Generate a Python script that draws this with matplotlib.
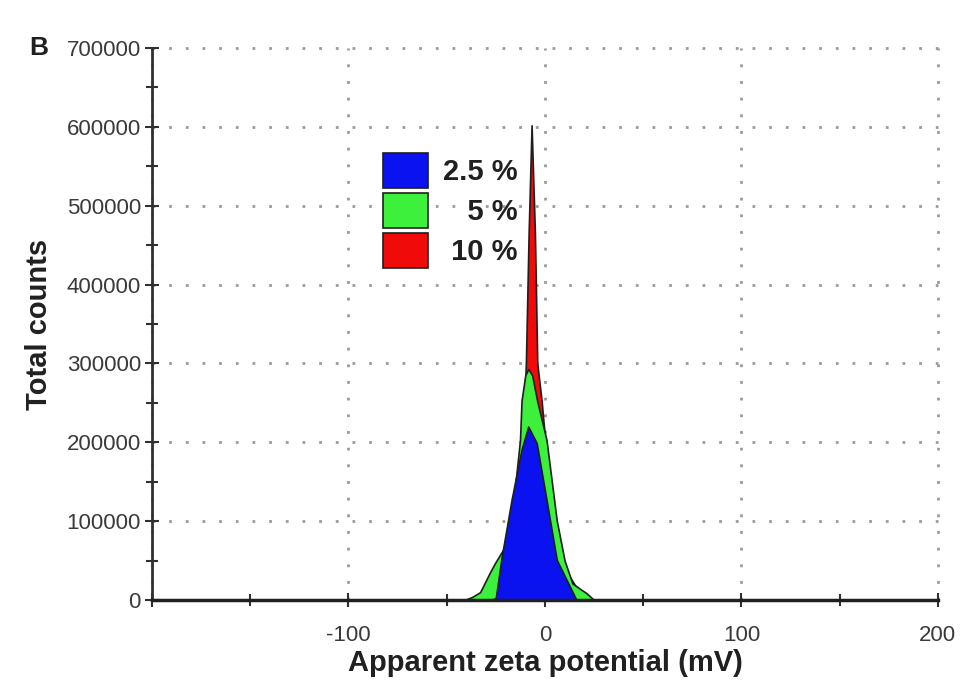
import matplotlib
matplotlib.use("Agg")
import matplotlib.pyplot as plt
from matplotlib.patches import Patch
import numpy as np

plt.rcParams['font.family'] = ['Liberation Sans', 'DejaVu Sans']

# data: zeta potential (mV) vs total counts
labels = ['2.5 %', '\u2007\u20085 %', '\u200810 %']
colors = ['#0a12f0', '#3cf03c', '#f00a0a']

x_25 = [-200, -27, -25, -22, -17, -12, -8.5, -4.2, 0.8, 6, 12.7, 16, 200]
y_25 = [0, 0, 3000, 55000, 127000, 190000, 220000, 199000, 127000, 51000, 17000, 0, 0]

x_5 = [-200, -41, -37, -33, -28, -25.4, -21, -17, -12.7, -11.9, -10, -8.5, -6.5, -4, 0.8, 6, 10, 14, 18, 21,
       25, 200]
y_5 = [0, 0, 4000, 10000, 35000, 47000, 65000, 101000, 203000, 253000, 285000, 293000, 285000, 253000,
       203000, 101000, 50000, 21000, 14000, 9000, 0, 0]

x_10 = [-200, -35, -25, -15, -11, -9.7, -8.3, -6.8, -5.1, -3.9, -1.7, 2, 10, 20, 200]
y_10 = [0, 0, 20000, 100000, 220000, 300000, 465000, 602000, 465000, 300000, 253000, 150000,
        40000, 0, 0]

xticks_major = [-200, -100, 0, 100, 200]
xtick_labels = ['', '-100', '0', '100', '200']
yticks_major = np.arange(0, 700001, 100000)

fig = plt.figure(figsize=(9.78, 6.99), dpi=100)
ax = fig.add_axes([0.1554, 0.1416, 0.8036, 0.7897])

edge = '#1e1e1e'
ax.fill_between(x_10, y_10, color=colors[2], edgecolor=edge, linewidth=1.2, zorder=2)
ax.fill_between(x_5, y_5, color=colors[1], edgecolor=edge, linewidth=1.2, zorder=3)
ax.fill_between(x_25, y_25, color=colors[0], edgecolor=edge, linewidth=1.2, zorder=4)
ax.plot([-200, 200], [0, 0], color='#202020', lw=2.5, zorder=5, clip_on=False)

ax.set_xlim(-200, 200)
ax.set_ylim(0, 700000)
ax.set_xticks(xticks_major)
ax.set_xticklabels(xtick_labels)
ax.set_xticks([-150, -50, 50, 150], minor=True)
ax.set_yticks(yticks_major)
ax.set_yticklabels([str(v) for v in yticks_major])
ax.set_yticks(np.arange(50000, 700000, 100000), minor=True)

ax.tick_params(axis='both', which='both', direction='inout', color='#303030', width=1.5)
ax.tick_params(axis='both', which='major', length=10, labelsize=16, labelcolor='#3a3a3a', pad=3)
ax.tick_params(axis='both', which='minor', length=8)
ax.tick_params(axis='x', which='major', pad=13)

for s in ['top', 'right']:
    ax.spines[s].set_visible(False)
for s in ['left', 'bottom']:
    ax.spines[s].set_color('#303030')
    ax.spines[s].set_linewidth(2)

ax.grid(True, which='major', linestyle=(0, (1, 5)), color='#9a9a9a', linewidth=2)
for gl in ax.get_xgridlines() + ax.get_ygridlines():
    gl.set_clip_on(False)
ax.set_axisbelow(True)

ax.set_xlabel('Apparent zeta potential (mV)', fontsize=21, fontweight='bold', color='#202020', labelpad=2)
ax.set_ylabel('Total counts', fontsize=21, fontweight='bold', color='#202020', labelpad=10)

handles = [Patch(facecolor=c, edgecolor=edge, linewidth=1.2) for c in colors]
leg = ax.legend(handles, labels, loc='upper left', bbox_to_anchor=(0.294, 0.81), frameon=False,
                prop={'size': 21, 'weight': 'bold'}, handlelength=1.55, handleheight=1.5,
                handletextpad=0.5, labelspacing=0.15, borderpad=0, borderaxespad=0)
for t in leg.get_texts():
    t.set_color('#202020')

fig.text(0.03, 0.922, 'B', fontsize=19, fontweight='bold', color='#202020')

fig.savefig('out.png', dpi=100)
